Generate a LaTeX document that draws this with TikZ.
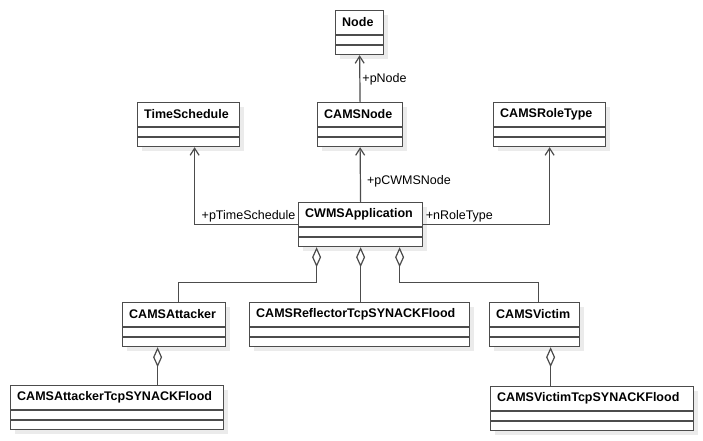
\documentclass[tikz,border=0pt]{standalone}
\usepackage{fontspec}
\setmainfont{Liberation Sans}
\usetikzlibrary{arrows.meta,calc}

\tikzset{
  cls/.style={draw=black!70, fill=white, line width=1.2pt, inner sep=0pt, minimum height=44pt, anchor=north west},
  clsname/.style={font=\fontsize{12.5}{14}\selectfont\bfseries, anchor=west, inner sep=0pt},
  role/.style={font=\fontsize{12.5}{14}\selectfont, inner sep=2pt},
  assoc/.style={draw=black!70, line width=1.2pt, -{Straight Barb[length=7pt,width=9pt]}},
  aggr/.style={draw=black!70, line width=1.2pt, {Diamond[length=20pt,width=9pt,fill=white]}-},
  shade/.style={fill=black!8}
}

% class box: name, left, top, width, title
\newcommand{\umlclass}[5]{%
  \fill[shade] (#2+5,#3+5) rectangle ++(#4,44);
  \node[cls, minimum width=#4pt] (#1) at (#2,#3) {};
  \node[clsname] at ($(#1.north west)+(7,12.5)$) {#5};
  \draw[black!70, line width=1.2pt] ($(#1.north west)+(0,25)$) -- ($(#1.north east)+(0,25)$);
  \draw[black!70, line width=1.2pt] ($(#1.north west)+(0,35)$) -- ($(#1.north east)+(0,35)$);
}

\begin{document}
\begin{tikzpicture}[x=1pt,y=-1pt]
  \fill[white] (0,0) rectangle (703,440);
  \useasboundingbox (0,0) rectangle (703,440);

  \umlclass{node}{335}{10}{48}{Node}
  \umlclass{tsched}{137}{102}{102}{TimeSchedule}
  \umlclass{cnode}{317}{102}{85}{CAMSNode}
  \umlclass{rtype}{493}{102}{112}{CAMSRoleType}
  \umlclass{app}{298}{202}{124}{CWMSApplication}
  \umlclass{att}{122}{302}{103}{CAMSAttacker}
  \umlclass{refl}{249}{302}{220}{CAMSReflectorTcpSYNACKFlood}
  \umlclass{vic}{489}{302}{90}{CAMSVictim}
  \umlclass{atcp}{10}{385}{213}{CAMSAttackerTcpSYNACKFlood}
  \umlclass{vtcp}{490}{386}{203}{CAMSVictimTcpSYNACKFlood}

  % associations
  \draw[assoc] (cnode.north) -- (node.south) node[role, pos=0.48, anchor=west] {+pNode};
  \draw[assoc] (app.north) -- (cnode.south) node[role, pos=0.37, anchor=west, xshift=4pt] {+pCWMSNode};
  \draw[assoc] (app.west) -| ([xshift=6pt]tsched.south) node[role, pos=0, anchor=south east] {+pTimeSchedule};
  \draw[assoc] (app.east) -| (rtype.south) node[role, pos=0, anchor=south west] {+nRoleType};

  % aggregations
  \draw[aggr] ([xshift=-44pt]app.south) -- ++(0,35) -| ([xshift=4.5pt]att.north);
  \draw[aggr] (app.south) -- (app.south |- refl.north);
  \draw[aggr] ([xshift=39pt]app.south) -- ++(0,35) -| ([xshift=4pt]vic.north);
  \draw[aggr] ([xshift=-16.5pt]att.south) -- ([xshift=-16.5pt]att.south |- atcp.north);
  \draw[aggr] ([xshift=16pt]vic.south) -- ([xshift=16pt]vic.south |- vtcp.north);
\end{tikzpicture}
\end{document}
